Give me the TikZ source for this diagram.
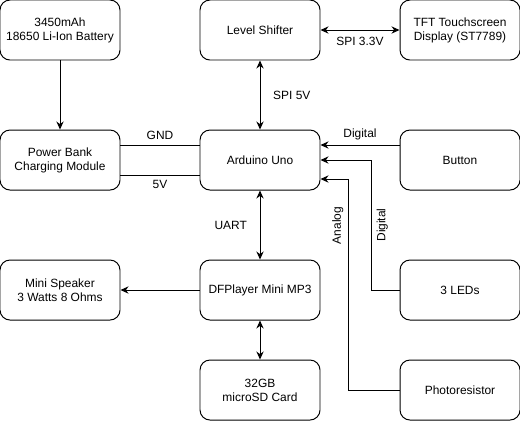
\documentclass[tikz,border=0pt]{standalone}
\usepackage{fontspec}
\setmainfont{Liberation Sans}
\usetikzlibrary{arrows.meta}

\tikzset{
  block/.style={draw, rounded corners=0.25cm, minimum width=3cm, minimum height=1.5cm,
    align=center, line width=0.7pt, font=\fontsize{8.5}{10}\selectfont},
  lbl/.style={font=\fontsize{8.5}{10}\selectfont},
  wire/.style={line width=0.7pt, >={Stealth[length=2mm,width=1.8mm]}}
}

\begin{document}
\begin{tikzpicture}
\useasboundingbox (0,0) rectangle (13,-10.525);
% top row
\node[block] (battery) at (1.5,-0.75) {3450mAh\\18650 Li-Ion Battery};
\node[block] (shifter) at (6.5,-0.75) {Level Shifter};
\node[block] (tft) at (11.5,-0.75) {TFT Touchscreen\\Display (ST7789)};
% second row
\node[block] (charger) at (1.5,-4) {Power Bank\\Charging Module};
\node[block] (uno) at (6.5,-4) {Arduino Uno};
\node[block] (button) at (11.5,-4) {Button};
% third row
\node[block] (speaker) at (1.5,-7.25) {Mini Speaker\\3 Watts 8 Ohms};
\node[block] (mp3) at (6.5,-7.25) {DFPlayer Mini MP3};
\node[block] (leds) at (11.5,-7.25) {3 LEDs};
% bottom row
\node[block] (sdcard) at (6.5,-9.75) {32GB\\microSD Card};
\node[block] (photo) at (11.5,-9.75) {Photoresistor};

\draw[wire,->] (battery) -- (charger);
\draw[wire,<->] (shifter) -- node[lbl, right=0.2cm]{SPI 5V} (uno);
\draw[wire,<->] (shifter) -- node[lbl, below=0.05cm]{SPI 3.3V} (tft);
\draw[wire] ([yshift=0.375cm]charger.east) -- node[lbl, above]{GND} ([yshift=0.375cm]uno.west);
\draw[wire] ([yshift=-0.375cm]charger.east) -- node[lbl, below]{5V} ([yshift=-0.375cm]uno.west);
\draw[wire,->] ([yshift=0.375cm]button.west) -- node[lbl, above]{Digital} ([yshift=0.375cm]uno.east);
\draw[wire,->] (leds.west) -- ++(-0.7,0) coordinate (ledbend) |- node[lbl, pos=0.25, rotate=90, below]{Digital} (uno.east);
\draw[wire,->] (photo.west) -- ++(-1.275,0) coordinate (photobend) |- node[lbl, pos=0.39, rotate=90, above]{Analog} ([yshift=-0.475cm]uno.east);
\draw[wire,<->] (uno) -- node[lbl, left=0.2cm]{UART} (mp3);
\draw[wire,->] (mp3) -- (speaker);
\draw[wire,<->] (mp3) -- (sdcard);
\end{tikzpicture}
\end{document}
